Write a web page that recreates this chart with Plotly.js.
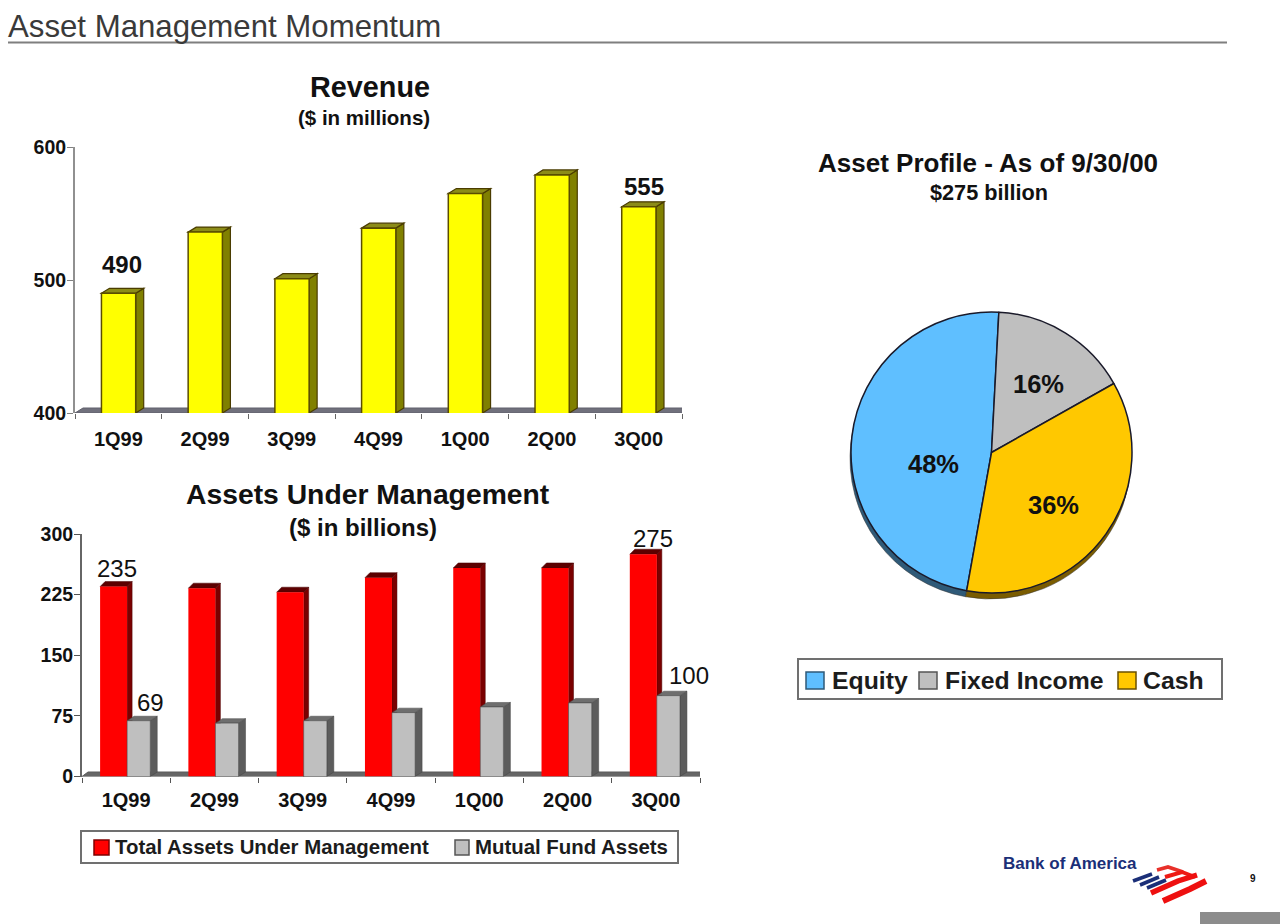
<!DOCTYPE html>
<html>
<head>
<meta charset="utf-8">
<script src="https://cdn.plot.ly/plotly-3.0.1.min.js"></script>
<style>html,body{margin:0;padding:0;background:#fff}#chart{width:1280px;height:924px}</style>
</head>
<body>
<div id="chart"></div>
<script>
// ---- data ----
const quarters = ['1Q99','2Q99','3Q99','4Q99','1Q00','2Q00','3Q00'];
const revenue = [490,536,501,539,565,579,555];
const totalAssets = [235,233,228,246,258,258,275];
const mutualFundAssets = [69,66,69,79,86,91,100];
const revenueTicks = [400,500,600];
const assetTicks = [0,75,150,225,300];
const profileNames = ['Equity','Fixed Income','Cash'];
const profileShares = [48,16,36];
const assetSeriesNames = ['Total Assets Under Management','Mutual Fund Assets'];

// ---- page geometry (pixels) ----
const W = 1280, H = 924;
const fx = x => x / W, fy = y => 1 - y / H;
const FONT = '"Liberation Sans", Arial, sans-serif';
const A = {l:75, r:682, t:147, b:413, lo:400, hi:600};
const B = {l:82, r:700, t:534, b:776.5, lo:0, hi:300};
const perCatA = (A.r - A.l) / quarters.length, perValA = (A.b - A.t) / (A.hi - A.lo);
const perCatB = (B.r - B.l) / quarters.length, perValB = (B.b - B.t) / (B.hi - B.lo);

const shapes = [];
function poly(xref, yref, pts, fill, line, lw) {
  shapes.push({type:'path', xref, yref, layer:'below',
    path:'M' + pts.map(p => p[0] + ',' + p[1]).join(' L') + ' Z',
    fillcolor:fill, line:{color:line || fill, width:lw === undefined ? 1 : lw}});
}
// 3-D faces of a bar, placed through the axis scales
function faces(xref, yref, i, off, wid, val, base, dx, dy, top, side, edge, lw) {
  const a = i + off, b = a + wid;
  poly(xref, yref, [[b,base],[b+dx,base+dy],[b+dx,val+dy],[b,val]], side, edge, lw);
  poly(xref, yref, [[a,val],[a+dx,val+dy],[b+dx,val+dy],[b,val]], top, edge, lw);
}
// floors
const dxA = 8 / perCatA, dyA = 5 / perValA;
poly('x','y',[[-0.5,A.lo],[-0.5+dxA,A.lo+dyA],[6.5+dxA,A.lo+dyA],[6.5,A.lo]],'#70707c','#60606c',1);
const dxF = 6 / perCatB, dyF = 4.5 / perValB;
poly('x2','y2',[[-0.5,B.lo],[-0.5+dxF,B.lo+dyF],[6.5+dxF,B.lo+dyF],[6.5,B.lo]],'#666666','#5a5a5a',1);

const widA = 0.395, offA = -0.195;
revenue.forEach((v,i) => faces('x','y',i,offA,widA,v,A.lo,dxA,dyA,'#8c8c18','#808000','#4a3c00',1.2));
const offR = -0.295, widR = 0.306, offG = 0.011, widG = 0.262;
const dxR = 5 / perCatB, dyR = 5 / perValB, dxG = 7 / perCatB, dyG = 4.5 / perValB;
totalAssets.forEach((v,i) => faces('x2','y2',i,offR,widR,v,B.lo,dxR,dyR,'#5c0000','#7a0000','#4a0000',0.5));
mutualFundAssets.forEach((v,i) => faces('x2','y2',i,offG,widG,v,B.lo,dxG,dyG,'#6e6e6e','#5c5c5c','#444444',0.5));

// headline rule, footer tab and logo
shapes.push({type:'line',xref:'paper',yref:'paper',x0:fx(8),x1:fx(1227),y0:fy(42.5),y1:fy(42.5),line:{color:'#7f7f7f',width:2}});
shapes.push({type:'rect',xref:'paper',yref:'paper',x0:fx(1200),x1:fx(1280),y0:fy(912),y1:fy(924),fillcolor:'#8c8c8c',line:{width:0}});
function stroke(pts,color,w){
  shapes.push({type:'path',xref:'paper',yref:'paper',
    path:'M'+pts.map(p=>fx(p[0])+','+fy(p[1])).join(' L'),line:{color,width:w}});
}
[[[1133,881],[1152,874]],[[1140,885],[1159,877]],[[1147,888],[1166,880]]].forEach(p=>stroke(p,'#1b2f78',3.6));
stroke([[1157,870],[1168,867],[1183,872]],'#e8302a',3.6);
stroke([[1165,877],[1182,872],[1195,877]],'#ee1a14',4);
stroke([[1151,893],[1178,881],[1197,875]],'#ee1010',5.5);
stroke([[1163,901],[1190,889],[1206,881]],'#ee1010',6);

const annotations = [];
function txt(x,y,text,size,bold,color,anchor,family){
  annotations.push({xref:'paper',yref:'paper',x:fx(x),y:fy(y),text:bold?'<b>'+text+'</b>':text,showarrow:false,
    xanchor:anchor||'center',yanchor:'middle',font:{family:family||FONT,size,color:color||'#111'}});
}
txt(369.5,87,'Revenue',28.8,true);
txt(364,117,'($ in millions)',20.5,true);
txt(368,494,'Assets Under Management',28.3,true);
txt(363,527,'($ in billions)',24,true);
txt(988,163,'Asset Profile - As of 9/30/00',26,true);
txt(989,192,'$275 billion',21.7,true);
txt(1001,863,'Bank of America',17,true,'#1b2f78','left');
txt(1253,878,'9',10,true);

function mark(xa,ya,i,val,dx,dy,bold){
  annotations.push({xref:xa,yref:ya,x:i,y:val,text:bold?'<b>'+val+'</b>':String(val),showarrow:false,xanchor:'center',yanchor:'bottom',
    xshift:dx,yshift:dy,font:{family:FONT,size:24,color:'#111'}});
}
mark('x','y',0,revenue[0],4,13,true);
mark('x','y',6,revenue[6],5,5,true);
mark('x2','y2',0,totalAssets[0],-9,3);
mark('x2','y2',6,totalAssets[6],-3,0);
mark('x2','y2',0,mutualFundAssets[0],24,3);
mark('x2','y2',6,mutualFundAssets[6],33,5);

const pieColors = ['#5fbfff','#bfbfbf','#ffc800'];
const pieShade = ['#2f5a78','#6a6a6a','#7a5c00'];
const pieRot = -169.8;

// share labels on the pie, taken from the values
[[933,464],[1038,384],[1053,505]].forEach((p,i) => txt(p[0],p[1],profileShares[i]+'%',25.5,true));

// hand-set legend boxes
function frame(x0,y0,x1,y1){
  shapes.push({type:'rect',xref:'paper',yref:'paper',x0:fx(x0),x1:fx(x1),y0:fy(y0),y1:fy(y1),line:{color:'#707070',width:2},fillcolor:'#fff'});
}
function swatch(x0,y0,x1,y1,c,edge){
  shapes.push({type:'rect',xref:'paper',yref:'paper',x0:fx(x0),x1:fx(x1),y0:fy(y0),y1:fy(y1),line:{color:edge,width:1.5},fillcolor:c});
}
frame(798,659,1222,699);
swatch(806,672,824,689,pieColors[0],'#2f5a78');
swatch(919,672,937,689,pieColors[1],'#555');
swatch(1118,672,1136,689,pieColors[2],'#6a5000');
txt(830,680.5,profileNames[0],24.8,true,'#1c1c1c','left');
txt(943,680.5,profileNames[1],24.8,true,'#1c1c1c','left');
txt(1141,680.5,profileNames[2],24.8,true,'#1c1c1c','left');
frame(81,831,678,863);
swatch(94,840,109,855,'#ff0000','#800000');
swatch(455,840,469,855,'#bfbfbf','#555');
txt(113,847,assetSeriesNames[0],20.4,true,'#1c1c1c','left');
txt(473,847,assetSeriesNames[1],20.4,true,'#1c1c1c','left');

const axisFont = {family:FONT,size:19.5,color:'#111',weight:700};
const catFont = {family:FONT,size:20,color:'#111',weight:700};

const traces = [
  {type:'bar',x:quarters,y:revenue,xaxis:'x',yaxis:'y',showlegend:false,name:'Revenue',offset:offA,width:widA,
   marker:{color:'#ffff00',line:{color:'#5a4c00',width:1.5}}},
  {type:'bar',x:quarters,y:totalAssets,xaxis:'x2',yaxis:'y2',showlegend:false,name:assetSeriesNames[0],offset:offR,width:widR,
   marker:{color:'#ff0000',line:{width:0}}},
  {type:'bar',x:quarters,y:mutualFundAssets,xaxis:'x2',yaxis:'y2',showlegend:false,name:assetSeriesNames[1],offset:offG,width:widG,
   marker:{color:'#bfbfbf',line:{color:'#444',width:0.5}}},
  {type:'pie',labels:profileNames,values:profileShares,sort:false,direction:'clockwise',rotation:pieRot,
   domain:{x:[fx(848),fx(1133)],y:[fy(599),fy(318)]},showlegend:false,textinfo:'none',hoverinfo:'skip',
   marker:{colors:pieShade,line:{color:'#333',width:0.5}}},
  {type:'pie',labels:profileNames,values:profileShares,sort:false,direction:'clockwise',rotation:pieRot,showlegend:false,
   domain:{x:[fx(849),fx(1134)],y:[fy(593),fy(312)]},textinfo:'none',
   marker:{colors:pieColors,line:{color:'#1a1a2a',width:1.5}}}
];
const layout = {
  width:W,height:H,margin:{l:0,r:0,t:0,b:0},paper_bgcolor:'#fff',plot_bgcolor:'rgba(0,0,0,0)',
  font:{family:FONT,color:'#111'},barmode:'overlay',showlegend:false,
  title:{text:'Asset Management Momentum',x:fx(8),xanchor:'left',y:fy(26),yanchor:'middle',font:{family:FONT,size:31.2,color:'#3a3a3a'}},
  xaxis:{domain:[fx(A.l),fx(A.r)],type:'category',range:[-0.5,6.5],tickson:'boundaries',ticks:'outside',ticklen:5,tickcolor:'#666',
    showline:false,showgrid:false,zeroline:false,tickfont:catFont,anchor:'y',automargin:false,ticklabelstandoff:12},
  yaxis:{domain:[fy(A.b),fy(A.t)],range:[A.lo,A.hi],tickvals:revenueTicks,ticks:'outside',ticklen:6,tickcolor:'#808080',
    showline:true,linecolor:'#909090',linewidth:2,showgrid:false,zeroline:false,tickfont:axisFont,anchor:'x',automargin:false,ticklabelstandoff:-3},
  xaxis2:{domain:[fx(B.l),fx(B.r)],type:'category',range:[-0.5,6.5],tickson:'boundaries',ticks:'outside',ticklen:5,tickcolor:'#555',
    showline:false,showgrid:false,zeroline:false,tickfont:catFont,anchor:'y2',automargin:false,ticklabelstandoff:9},
  yaxis2:{domain:[fy(B.b),fy(B.t)],range:[B.lo,B.hi],tickvals:assetTicks,ticks:'outside',ticklen:6,tickcolor:'#555',
    showline:true,linecolor:'#666',linewidth:2,showgrid:false,zeroline:false,tickfont:axisFont,anchor:'x2',automargin:false,ticklabelstandoff:-3},
  shapes,annotations
};
Plotly.newPlot('chart',traces,layout,{displayModeBar:false,staticPlot:true});
</script>
</body>
</html>
